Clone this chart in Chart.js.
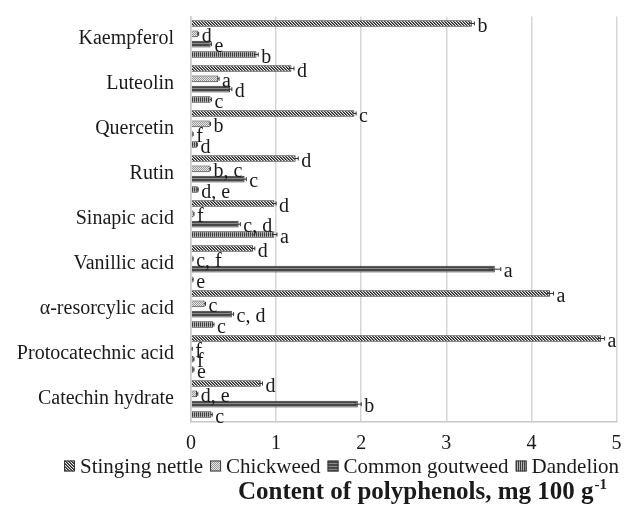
<!DOCTYPE html>
<html>
<head>
<meta charset="utf-8">
<script src="https://cdn.jsdelivr.net/npm/chart.js@4.4.1/dist/chart.umd.min.js"></script>
<style>
  html, body { margin: 0; padding: 0; background: #fff; }
  #wrap { width: 625px; height: 514px; }
</style>
</head>
<body>
<div id="wrap"><canvas id="chart" width="625" height="514"></canvas></div>
<script>
// Polyphenol content (mg per 100 g) of four wild plants, top-to-bottom order
const compounds = ['Kaempferol', 'Luteolin', 'Quercetin', 'Rutin', 'Sinapic acid',
  'Vanillic acid', 'α-resorcylic acid', 'Protocatechnic acid', 'Catechin hydrate'];

const plants = ['Stinging nettle', 'Chickweed', 'Common goutweed', 'Dandelion'];

const nettle    = [3.30, 1.18, 1.92, 1.23, 0.98, 0.73, 4.22, 4.82, 0.82];
const chickweed = [0.08, 0.32, 0.22, 0.22, 0.03, 0.02, 0.16, 0.01, 0.07];
const goutweed  = [0.23, 0.46, 0.02, 0.63, 0.56, 3.57, 0.48, 0.03, 1.96];
const dandelion = [0.77, 0.23, 0.07, 0.08, 0.98, 0.02, 0.26, 0.03, 0.24];

// standard deviations
const nettleSd    = [0.03, 0.03, 0.02, 0.03, 0.02, 0.02, 0.04, 0.04, 0.02];
const chickweedSd = [0.01, 0.01, 0.01, 0.01, 0.005, 0.005, 0.01, 0.005, 0.01];
const goutweedSd  = [0.01, 0.02, 0.005, 0.02, 0.02, 0.07, 0.02, 0.005, 0.04];
const dandelionSd = [0.02, 0.01, 0.005, 0.005, 0.03, 0.005, 0.01, 0.005, 0.01];

// significance letters
const nettleSig    = ['b', 'd', 'c', 'd', 'd', 'd', 'a', 'a', 'd'];
const chickweedSig = ['d', 'a', 'b', 'b, c', 'f', 'c, f', 'c', 'f', 'd, e'];
const goutweedSig  = ['e', 'd', 'f', 'c', 'c, d', 'a', 'c, d', 'f', 'b'];
const dandelionSig = ['b', 'c', 'd', 'd, e', 'a', 'e', 'c', 'e', 'c'];

const xTicks = [0, 1, 2, 3, 4, 5];

const SERIF = '"Liberation Serif", "Times New Roman", serif';
const INK = '#1a1a1a';

// ---- fill patterns -------------------------------------------------------
function tile(w, h, paint) {
  const c = document.createElement('canvas');
  c.width = w; c.height = h;
  const g = c.getContext('2d');
  paint(g);
  return g.createPattern(c, 'repeat');
}
const hatchDiag = tile(3, 3, g => {
  g.fillStyle = '#eeeeee'; g.fillRect(0, 0, 3, 3);
  g.fillStyle = '#262626';
  g.fillRect(0, 0, 1, 1); g.fillRect(1, 1, 1, 1); g.fillRect(2, 2, 1, 1);
  g.fillStyle = '#6a6a6a';
  g.fillRect(1, 0, 1, 1); g.fillRect(2, 1, 1, 1); g.fillRect(0, 2, 1, 1);
});
const hatchDots = tile(2, 2, g => {
  g.fillStyle = '#e6e6e6'; g.fillRect(0, 0, 2, 2);
  g.fillStyle = '#9a9a9a'; g.fillRect(0, 0, 1, 1); g.fillRect(1, 1, 1, 1);
});
const hatchHoriz = tile(2, 3, g => {
  g.fillStyle = '#474747'; g.fillRect(0, 0, 2, 3);
  g.fillStyle = '#8c8c8c'; g.fillRect(0, 1, 2, 1);
});
const hatchVert = tile(2, 2, g => {
  g.fillStyle = '#3c3c3c'; g.fillRect(0, 0, 2, 2);
  g.fillStyle = '#b4b4b4'; g.fillRect(1, 0, 1, 2);
});

const series = [
  { values: nettle,    sd: nettleSd,    sig: nettleSig,    fill: hatchDiag },
  { values: chickweed, sd: chickweedSd, sig: chickweedSig, fill: hatchDots },
  { values: goutweed,  sd: goutweedSd,  sig: goutweedSig,  fill: hatchHoriz },
  { values: dandelion, sd: dandelionSd, sig: dandelionSig, fill: hatchVert }
];

// ---- error whiskers and significance letters ----------------------------
const annotate = {
  id: 'annotate',
  afterDatasetsDraw(chart) {
    const ctx = chart.ctx;
    const xs = chart.scales.x;
    ctx.save();
    chart.data.datasets.forEach((ds, di) => {
      const meta = chart.getDatasetMeta(di);
      const s = series[di];
      meta.data.forEach((bar, i) => {
        const v = s.values[i];
        const sd = s.sd[i];
        const y = bar.y;
        const x1 = xs.getPixelForValue(v + sd);
        const x0 = xs.getPixelForValue(Math.max(0, v - sd));
        ctx.strokeStyle = '#333';
        ctx.lineWidth = 1;
        ctx.beginPath();
        ctx.moveTo(x0, y); ctx.lineTo(x1, y);
        ctx.moveTo(x1, y - 2); ctx.lineTo(x1, y + 2);
        ctx.stroke();
        ctx.fillStyle = INK;
        ctx.font = '20px ' + SERIF;
        ctx.textAlign = 'left';
        ctx.textBaseline = 'middle';
        ctx.fillText(s.sig[i], x1 + 3, y + 3);
      });
    });
    ctx.restore();
  }
};

// ---- legend row and axis title (with superscript) -----------------------
const footer = {
  id: 'footer',
  afterDraw(chart) {
    const ctx = chart.ctx;
    ctx.save();
    ctx.fillStyle = INK;
    ctx.textAlign = 'left';

    // legend
    ctx.font = '21px ' + SERIF;
    ctx.textBaseline = 'middle';
    const box = 11, gapIn = 5, gapOut = 7;
    const cy = 466;
    let x = 64;
    chart.data.datasets.forEach(ds => {
      ctx.fillStyle = ds.backgroundColor;
      ctx.fillRect(x, cy - box / 2, box, box);
      ctx.strokeStyle = '#3a3a3a';
      ctx.lineWidth = 1;
      ctx.strokeRect(x + 0.5, cy - box / 2 + 0.5, box - 1, box - 1);
      x += box + gapIn;
      ctx.fillStyle = INK;
      ctx.fillText(ds.label, x, cy + 1);
      x += ctx.measureText(ds.label).width + gapOut;
    });

    // axis title
    ctx.textBaseline = 'alphabetic';
    const main = 'Content of polyphenols, mg 100 g';
    const sup = '-1';
    ctx.font = 'bold 25px ' + SERIF;
    const wMain = ctx.measureText(main).width;
    ctx.font = 'bold 15px ' + SERIF;
    const wSup = ctx.measureText(sup).width;
    const tx = 422 - (wMain + wSup) / 2;
    const base = 499;
    ctx.font = 'bold 25px ' + SERIF;
    ctx.fillText(main, tx, base);
    ctx.font = 'bold 15px ' + SERIF;
    ctx.fillText(sup, tx + wMain + 1, base - 10);
    ctx.restore();
  }
};

new Chart(document.getElementById('chart'), {
  type: 'bar',
  data: {
    labels: compounds,
    datasets: series.map((s, i) => ({
      label: plants[i],
      data: s.values,
      backgroundColor: s.fill,
      borderColor: '#333333',
      borderWidth: 1,
      categoryPercentage: 0.92,
      barPercentage: 0.64
    }))
  },
  options: {
    indexAxis: 'y',
    responsive: false,
    devicePixelRatio: 1,
    animation: false,
    layout: { padding: { top: 16.5, right: 8.5, bottom: 62.5, left: 0 } },
    scales: {
      x: {
        min: xTicks[0],
        max: xTicks[xTicks.length - 1],
        afterBuildTicks(scale) { scale.ticks = xTicks.map(v => ({ value: v })); },
        afterFit(scale) {
          scale.height = 30;
          scale.paddingLeft = 0; scale.paddingRight = 0;
        },
        grid: { color: '#d6d6d6', lineWidth: 1.5, drawTicks: false },
        border: { color: '#c8c8c8', width: 1.5 },
        ticks: { font: { family: SERIF, size: 20 }, color: INK, padding: 10 }
      },
      y: {
        afterFit(scale) {
          scale.width = 191;
          scale.paddingTop = 0; scale.paddingBottom = 0;
        },
        grid: { display: false, drawTicks: false },
        border: { color: '#c8c8c8', width: 1.5 },
        ticks: { font: { family: SERIF, size: 20 }, color: INK, padding: 17 }
      }
    },
    plugins: {
      legend: { display: false },
      title: { display: false },
      tooltip: { enabled: false }
    }
  },
  plugins: [annotate, footer]
});
</script>
</body>
</html>
